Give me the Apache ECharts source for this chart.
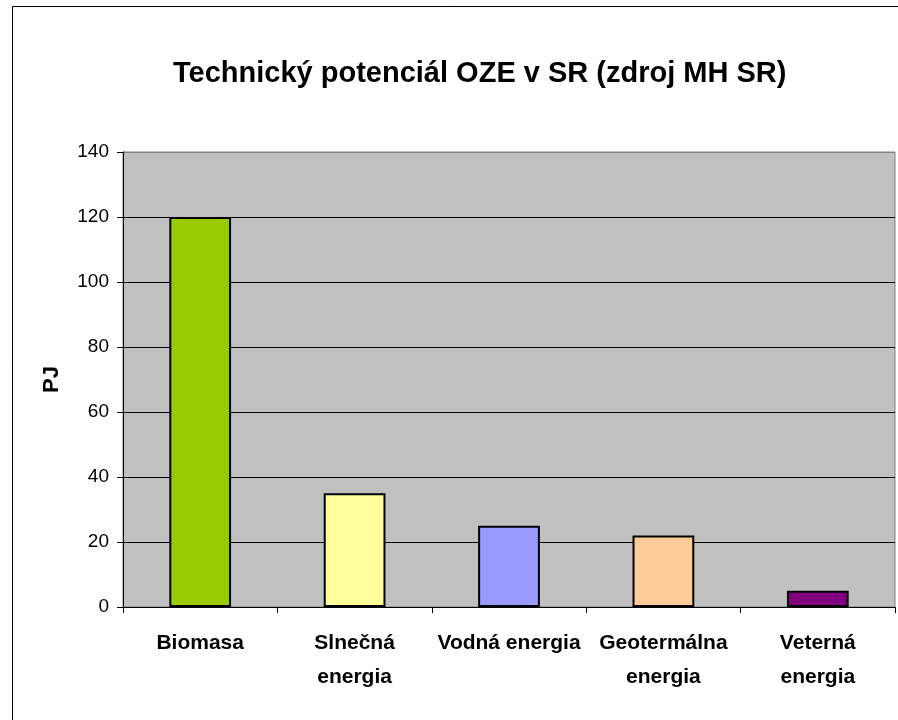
<!DOCTYPE html>
<html>
<head>
<meta charset="utf-8">
<script src="https://cdn.jsdelivr.net/npm/echarts@6/dist/echarts.min.js"></script>
<style>html,body{margin:0;padding:0;background:#fff}#c{width:898px;height:720px}</style>
</head>
<body>
<div id="c"></div>
<script>
const categories = ['Biomasa', 'Slnečná\nenergia', 'Vodná energia', 'Geotermálna\nenergia', 'Veterná\nenergia'];
const values = [120, 35, 25, 22, 5];
const barColors = ['#99cc00', '#ffff99', '#9999ff', '#ffcc99', '#800080'];
const yTicks = [0, 20, 40, 60, 80, 100, 120, 140];
const titleText = 'Technický potenciál OZE v SR (zdroj MH SR)';
const yName = 'PJ';

const FF = "'Liberation Sans', Arial, sans-serif";
const splitColors = yTicks.map((t, i) => i === yTicks.length - 1 ? '#808080' : '#000');
const chart = echarts.init(document.getElementById('c'), null, {renderer: 'canvas'});
chart.setOption({
  animation: false,
  backgroundColor: '#ffffff',
  title: {
    text: titleText,
    left: 168,
    top: 54,
    textStyle: {fontFamily: FF, fontSize: 29, fontWeight: 'bold', color: '#000'}
  },
  graphic: [{
    type: 'rect', shape: {x: 12.5, y: 6.5, width: 900, height: 730},
    style: {fill: 'none', stroke: '#000', lineWidth: 1}, silent: true, z: 100
  }],
  grid: {
    left: 123, top: 152, width: 772, height: 455,
    show: true, backgroundColor: '#c0c0c0', borderColor: '#808080', borderWidth: 1
  },
  xAxis: {
    type: 'category',
    data: categories,
    axisLine: {lineStyle: {color: '#000', width: 1}},
    axisTick: {show: true, length: 6, lineStyle: {color: '#000'}},
    axisLabel: {fontFamily: FF, fontSize: 21, fontWeight: 'bold', color: '#000', margin: 19, lineHeight: 34, interval: 0}
  },
  yAxis: {
    type: 'value',
    min: yTicks[0], max: yTicks[yTicks.length - 1], interval: 20,
    name: yName,
    nameLocation: 'middle',
    nameGap: 60,
    nameTextStyle: {fontFamily: FF, fontSize: 22, fontWeight: 'bold', color: '#000'},
    axisLine: {show: true, lineStyle: {color: '#000', width: 1}},
    axisTick: {show: true, length: 6, lineStyle: {color: '#000'}},
    axisLabel: {fontFamily: FF, fontSize: 19, color: '#000', margin: 14},
    splitLine: {show: true, lineStyle: {color: splitColors, width: 1}}
  },
  series: [{
    type: 'bar',
    data: values.map((v, i) => ({value: v, itemStyle: {color: barColors[i]}})),
    barCategoryGap: '60%',
    itemStyle: {borderColor: '#000', borderWidth: 2}
  }]
});
</script>
</body>
</html>
